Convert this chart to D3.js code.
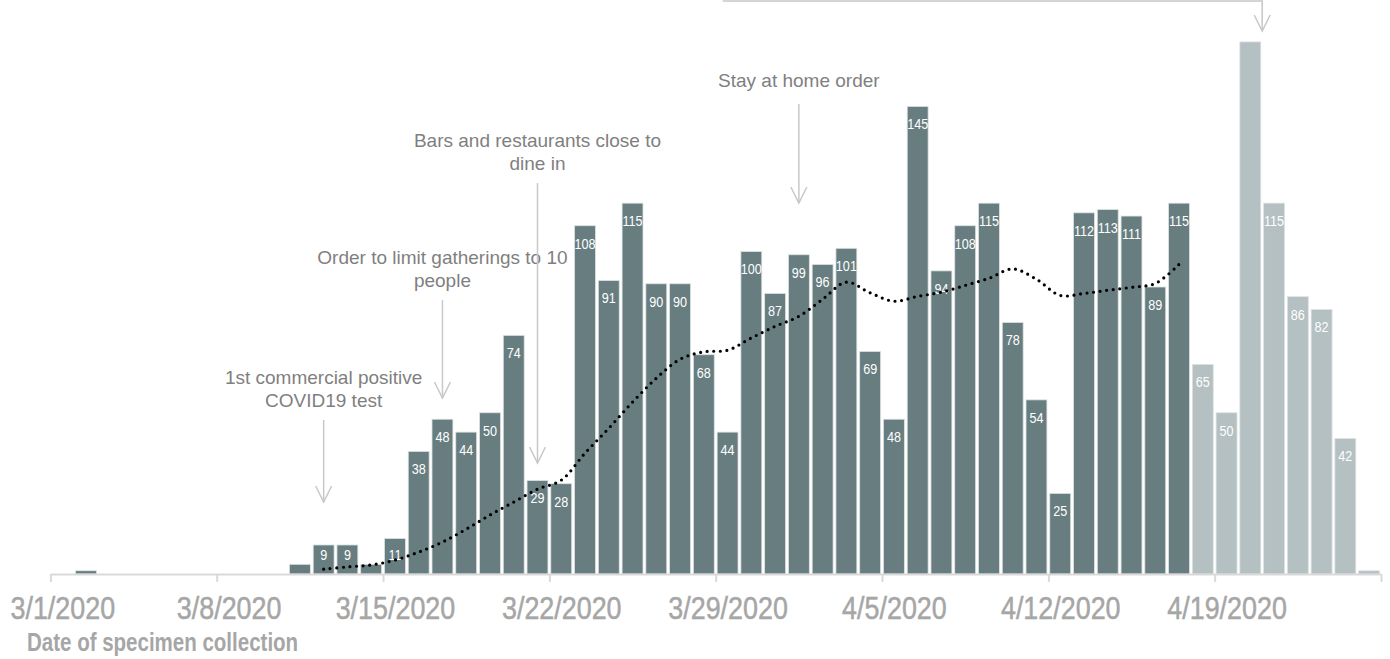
<!DOCTYPE html>
<html>
<head>
<meta charset="utf-8">
<script src="https://cdn.jsdelivr.net/npm/d3@7"></script>
<style>
  body { margin: 0; background: #fff; }
  svg { display: block; }
  .tick-label { font-family: "Liberation Sans", Arial, sans-serif; }
  .note { font-family: "Liberation Sans", Arial, sans-serif; font-size: 19px; fill: #7f7f7f; }
  .bar-label { font-family: "Liberation Sans", Arial, sans-serif; font-size: 14px; fill: #fff; }
</style>
</head>
<body>
<div id="chart"></div>
<script>
// Config
const width = 1390;
const height = 659;

// Data: cases by date of specimen collection, 3/1/2020 .. 4/25/2020
const startDay = new Date(2020, 2, 1);
const endDay = new Date(2020, 3, 26);
const cases = [
  0, 1, 0, 0, 0, 0, 0, 0, 0, 0,
  3, 9, 9, 3, 11, 38, 48, 44, 50, 74,
  29, 28, 108, 91, 115, 90, 90, 68, 44, 100,
  87, 99, 96, 101, 69, 48, 145, 94, 108, 115,
  78, 54, 25, 112, 113, 111, 89, 115, 65, 50,
  165, 115, 86, 82, 42, 1
];
// smoothed moving average (dotted line)
const movingAvg = [
  null, null, null, null, null, null, null, null, null, null,
  null, 1.5, 2.2, 2.8, 4.3, 6.8, 9.9, 13.9, 18.3, 22.3,
  26.3, 29.1, 37.5, 45.2, 53.3, 60.7, 66.6, 68.9, 69.4, 73.2,
  76.8, 79.9, 85.2, 90.5, 87.2, 84.6, 86.1, 87.4, 89.5, 91.7,
  94.6, 91.4, 86.4, 87, 88, 88.9, 90.1, 96, null, null,
  null, null, null, null, null, null
];
const provisionalFrom = new Date(2020, 3, 18);
const hiddenLabels = ["2020-04-20"];
const tickDates = [
  new Date(2020, 2, 1), new Date(2020, 2, 8), new Date(2020, 2, 15), new Date(2020, 2, 22),
  new Date(2020, 2, 29), new Date(2020, 3, 5), new Date(2020, 3, 12), new Date(2020, 3, 19),
  new Date(2020, 3, 26)
];
const tickLabels = ["3/1/2020", "3/8/2020", "3/15/2020", "3/22/2020", "3/29/2020",
  "4/5/2020", "4/12/2020", "4/19/2020", ""];

const days = d3.timeDay.range(startDay, endDay);
const data = days.map((d, i) => ({ date: d, value: cases[i], avg: movingAvg[i] }));
const fmt = d3.timeFormat("%Y-%m-%d");

// Scales
const plotLeft = 50.4, plotRight = 1381, baseline = 574;
const x = d3.scaleBand()
  .domain(days)
  .range([plotLeft, plotRight])
  .paddingInner(0.12)
  .paddingOuter(0.06);
const xTime = d3.scaleTime().domain([startDay, endDay]).range([plotLeft, plotRight]);
const y = d3.scaleLinear().domain([0, 178]).range([baseline, 0]);
const center = d => x(d) + x.bandwidth() / 2;

// squeeze a text horizontally to mimic a condensed face
function condense(sel, factor) {
  sel.each(function() {
    const len = this.getComputedTextLength();
    if (len > 0) {
      d3.select(this)
        .attr("textLength", len * factor)
        .attr("lengthAdjust", "spacingAndGlyphs");
    }
  });
}

const svg = d3.select("#chart").append("svg")
  .attr("width", width)
  .attr("height", height);

// Bars
svg.append("g")
  .selectAll("rect")
  .data(data.filter(d => d.value > 0))
  .join("rect")
  .attr("x", d => x(d.date))
  .attr("y", d => y(d.value))
  .attr("width", x.bandwidth())
  .attr("height", d => baseline - y(d.value))
  .attr("fill", d => d.date >= provisionalFrom ? "#b4c0c1" : "#687d80")
  .attr("stroke", "#dde2e2")
  .attr("stroke-width", 0.8);

// Bar labels
svg.append("g")
  .selectAll("text")
  .data(data.filter(d => d.value >= 5 && !hiddenLabels.includes(fmt(d.date))))
  .join("text")
  .attr("class", "bar-label")
  .attr("x", d => center(d.date))
  .attr("y", d => Math.min(y(d.value) + 18, baseline - 19))
  .attr("dy", "0.35em")
  .attr("text-anchor", "middle")
  .text(d => d.value)
  .call(condense, 0.9);

// Axis
const axis = svg.append("g")
  .attr("transform", `translate(0,${baseline})`)
  .call(d3.axisBottom(xTime)
    .tickValues(tickDates)
    .tickFormat((d, i) => tickLabels[i])
    .tickSize(8)
    .tickSizeOuter(0));
axis.select(".domain").attr("stroke", "#d9d9d9").attr("stroke-width", 2);
axis.selectAll(".tick line").attr("stroke", "#d9d9d9").attr("stroke-width", 2);
axis.selectAll(".tick text")
  .attr("class", "tick-label")
  .attr("x", x.step() / 2)
  .attr("y", 22)
  .attr("fill", "#a6a6a6")
  .attr("stroke", "#a6a6a6")
  .attr("stroke-width", 0.5)
  .style("font-size", "32px")
  .call(condense, 0.84);

svg.append("text")
  .attr("class", "tick-label")
  .attr("x", 27)
  .attr("y", 651)
  .attr("fill", "#a6a6a6")
  .style("font-size", "25px")
  .style("font-weight", "bold")
  .text("Date of specimen collection")
  .call(condense, 0.82);

// Moving average
const line = d3.line()
  .defined(d => d.avg != null)
  .x(d => center(d.date))
  .y(d => y(d.avg))
  .curve(d3.curveCatmullRom.alpha(0.5));
svg.append("path")
  .datum(data)
  .attr("d", line)
  .attr("fill", "none")
  .attr("stroke", "#000")
  .attr("stroke-width", 3.2)
  .attr("stroke-linecap", "round")
  .attr("stroke-dasharray", "0 6.6");

// Annotations
const annotations = [
  { date: new Date(2020, 2, 12), lines: ["1st commercial positive", "COVID19 test"], textY: 384, top: 420, tip: 502 },
  { date: new Date(2020, 2, 17), lines: ["Order to limit gatherings to 10", "people"], textY: 264, top: 300, tip: 398 },
  { date: new Date(2020, 2, 21), lines: ["Bars and restaurants close to", "dine in"], textY: 147, top: 183, tip: 463 },
  { date: new Date(2020, 3, 1), lines: ["Stay at home order"], textY: 87, top: 104, tip: 203 }
];
const noteColor = "#c8c8c8";

function arrowHead(g, ax, tip) {
  g.append("path")
    .attr("d", `M${ax - 8},${tip - 16}L${ax},${tip}L${ax + 8},${tip - 16}`)
    .attr("fill", "none")
    .attr("stroke", noteColor)
    .attr("stroke-width", 1.5);
}

const notes = svg.append("g");
annotations.forEach(a => {
  const ax = center(a.date);
  const t = notes.append("text")
    .attr("class", "note")
    .attr("text-anchor", "middle");
  a.lines.forEach((l, i) => {
    t.append("tspan").attr("x", ax).attr("y", a.textY + i * 23).text(l);
  });
  notes.append("line")
    .attr("x1", ax).attr("x2", ax)
    .attr("y1", a.top).attr("y2", a.tip)
    .attr("stroke", noteColor)
    .attr("stroke-width", 1.5);
  arrowHead(notes, ax, a.tip);
});

// Bracket arrow from the top (label cropped above the chart)
const bx0 = xTime(new Date(2020, 2, 29)) + 7;
const bx1 = xTime(new Date(2020, 3, 21));
notes.append("path")
  .attr("d", `M${bx0},1H${bx1}V31`)
  .attr("fill", "none")
  .attr("stroke", noteColor)
  .attr("stroke-width", 1.5);
arrowHead(notes, bx1, 31);
</script>
</body>
</html>
